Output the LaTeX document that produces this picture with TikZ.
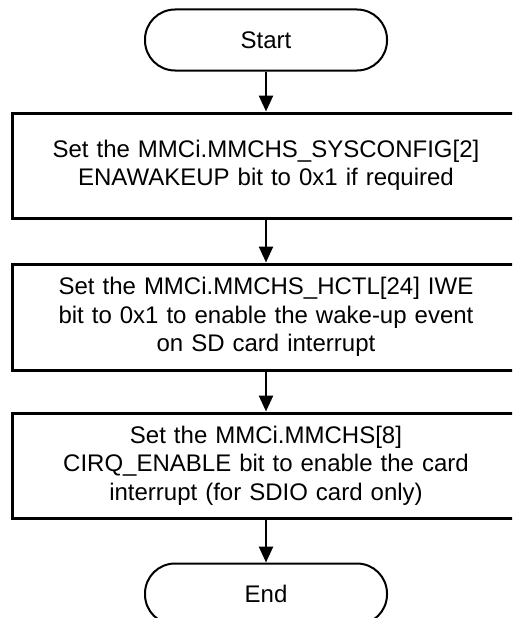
\documentclass[tikz,border=0pt]{standalone}
\usepackage{fontspec}
\setmainfont{Liberation Sans}
\usetikzlibrary{arrows.meta}

\tikzset{
    term/.style={draw, line width=2pt, rounded corners=30pt, minimum width=242pt, minimum height=61pt},
    stepbox/.style={draw, line width=3pt, minimum width=508pt, text width=480pt, align=center},
}

\begin{document}
\begin{tikzpicture}[x=1pt, y=1pt, >={Triangle[width=14pt,length=16pt]}, font=\fontsize{24}{28.5}\selectfont]
    \clip (0,0) rectangle (512,-618);
    \useasboundingbox (0,0) rectangle (512,-618);

    \node[term] (start) at (266,-40) {Start};
    \node[stepbox, minimum height=105pt] (sys) at (266,-165.5)
        {Set the MMCi.MMCHS\_SYSCONFIG[2]\\ENAWAKEUP bit to 0x1 if required};
    \node[stepbox, minimum height=106pt] (hctl) at (266,-317)
        {Set the MMCi.MMCHS\_HCTL[24] IWE\\bit to 0x1 to enable the wake-up event\\on SD card interrupt};
    \node[stepbox, minimum height=105pt] (cirq) at (266,-465.5)
        {Set the MMCi.MMCHS[8]\\CIRQ\_ENABLE bit to enable the card\\interrupt (for SDIO card only)};
    \node[term] (end) at (266,-594) {End};

    \draw[->, line width=2.5pt] (start) -- (sys);
    \draw[->, line width=2.5pt] (sys) -- (hctl);
    \draw[->, line width=2.5pt] (hctl) -- (cirq);
    \draw[->, line width=2.5pt] (cirq) -- (end);
\end{tikzpicture}
\end{document}
